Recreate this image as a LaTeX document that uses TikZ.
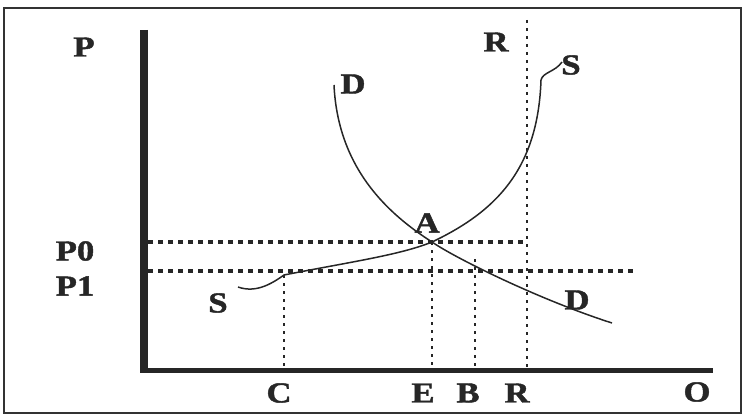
\documentclass[tikz,border=0pt]{standalone}
\usepackage{fontspec}
\setmainfont{Liberation Serif}[FakeStretch=1.2, BoldFeatures={FakeBold=1.5}]
\begin{document}
\begin{tikzpicture}[x=1pt,y=-1pt,
  ink/.style={black!85},
  lbl/.style={ink,font=\fontsize{29}{29}\selectfont\bfseries,inner sep=0pt},
  axisline/.style={ink,line width=#1},
  hdots/.style={black!85,line width=3.2pt,dash pattern=on 4.5pt off 5.5pt},
  vdots/.style={black!85,line width=2.2pt,dash pattern=on 3pt off 5pt},
  curve/.style={black!85,line width=1.5pt}]
\useasboundingbox (0,0) rectangle (743,417);
\draw[black!80,line width=1.5pt] (4,8) rectangle (741,413);
% axes
\coordinate (ytop) at (144,30);
\coordinate (orig) at (144,373);
\coordinate (xstart) at (140,370);
\coordinate (xend) at (713,370);
\draw[axisline=8pt] (ytop) -- (orig);
\draw[axisline=5pt] (xstart) -- (xend);
% key points
\coordinate (A) at (432,242);
\coordinate (Bp) at (475,271);
\coordinate (Cp) at (284,275);
\coordinate (p0s) at (148,242);
\coordinate (p0e) at (528,242);
\coordinate (p1s) at (148,271);
\coordinate (p1e) at (633,271);
\coordinate (rtop) at (527,20);
\coordinate (rbot) at (527,370);
\coordinate (ebot) at (432,370);
\coordinate (bbot) at (475,370);
\coordinate (btop) at (475,259);
\coordinate (cbot) at (284,370);
% dotted guides
\draw[hdots] (p0s) -- (p0e);
\draw[hdots] (p1s) -- (p1e);
\draw[vdots] (rtop) -- (rbot);
\draw[vdots] (A) -- (ebot);
\draw[vdots] (btop) -- (bbot);
\draw[vdots] (Cp) -- (cbot);
% demand curve
\draw[curve] (334,85) .. controls (338,170) and (390,215) .. (A)
  .. controls (455,258) and (540,300) .. (612,323);
% supply curve
\draw[curve] (238,287) .. controls (255,293) and (270,285) .. (Cp)
  .. controls (350,262) and (400,255) .. (A)
  .. controls (495,212) and (538,170) .. (541,80)
  .. controls (543,72) and (555,72) .. (562,62);
% labels
\node[lbl] (lP) at (84,47) {P};
\node[lbl] (lR1) at (496,42) {R};
\node[lbl] (lS1) at (571,65) {S};
\node[lbl] (lD1) at (353,84) {D};
\node[lbl] (lA) at (427,223) {A};
\node[lbl] (lP0) at (75,251) {P0};
\node[lbl] (lP1) at (75,286) {P1};
\node[lbl] (lS2) at (218,303) {S};
\node[lbl] (lD2) at (577,300) {D};
\node[lbl] (lC) at (279,393) {C};
\node[lbl] (lE) at (423,393) {E};
\node[lbl] (lB) at (468,393) {B};
\node[lbl] (lR2) at (517,393) {R};
\node[lbl] (lO) at (697,392) {O};
\end{tikzpicture}
\end{document}
